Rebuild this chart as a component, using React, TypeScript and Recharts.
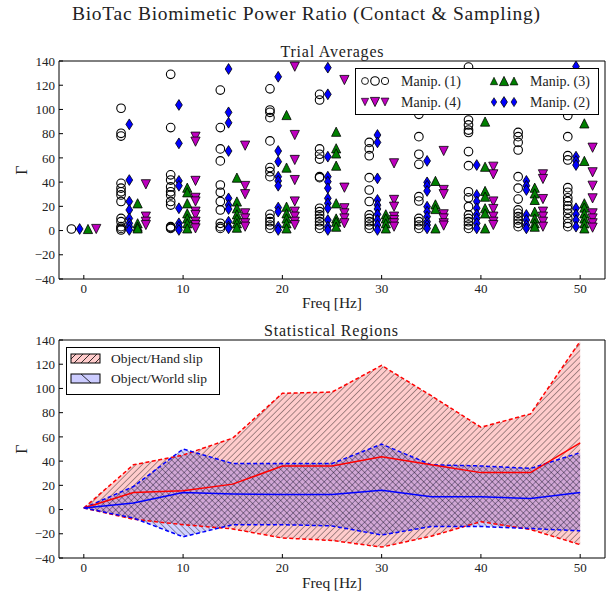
import { ScatterChart, Scatter, ComposedChart, Area, Line, XAxis, YAxis } from 'recharts';

const freqs = [0, 5, 10, 15, 20, 25, 30, 35, 40, 45, 50];
const xTicks = [0, 10, 20, 30, 40, 50];
const yTicks = [-40, -20, 0, 20, 40, 60, 80, 100, 120, 140];

// trial averages, one list per frequency
const manip1 = [
  [1.3],
  [101, 80.3, 78, 39, 35, 32, 29.4, 24, 10, 7.3, 3.2, 1.8, 0.5],
  [129, 85, 46, 41.7, 36, 32, 29.4, 24, 21, 3.2, 2.5, 1.8],
  [116, 85, 67.4, 57.5, 37.6, 31.6, 24, 17, 6, 3.2, 1.8],
  [117, 99.5, 97.6, 93.2, 74, 52, 48.6, 44.5, 13.4, 10, 7.3, 4.6, 1.8],
  [112.5, 107.8, 67.4, 63, 59, 44.5, 43.7, 18.4, 15.6, 12.9, 10, 7.3, 4.6, 1.8],
  [72.8, 67.4, 61.8, 43.7, 33.5, 24, 12.9, 10, 7.3, 4.6, 1.8],
  [96, 77.5, 63, 54.7, 28, 24.4, 10, 7.3, 4.6, 1.8],
  [135, 91.3, 87.2, 83, 81, 65.2, 53.6, 32, 27, 19.7, 12.9, 10, 7.3, 4.6, 1.8],
  [81, 77.5, 72.8, 66.5, 44.5, 35, 26, 17, 14.2, 11.5, 8.7, 6, 3.2],
  [95, 77.5, 61.8, 58.3, 35.4, 31.6, 27, 24, 20.5, 17.8, 14.2, 10, 6, 3.2],
];
const manip2 = [
  [1.3],
  [87.7, 41.7, 24, 17, 10, 6, 3.2, 0.5],
  [103.7, 72, 41, 37, 18.4, 6, 3.2, 0.5],
  [133.4, 97.6, 89, 65.7, 26.6, 21, 17.8, 7.3, 3.2, 1.8],
  [127, 65.7, 56.9, 44.5, 41, 37, 19, 15.6, 3.2, 0.5],
  [134.5, 112.5, 61, 44.5, 40.4, 35, 26.6, 22.5, 18.4, 8.7, 3.2, 0.5],
  [78.9, 72.8, 43.1, 25.3, 21, 17.8, 13.4, 8.7, 4.6, 0.5],
  [57.5, 39.8, 37, 32.7, 19.7, 15.6, 11.5, 7.3, 4.6, 1.8],
  [54.1, 29.4, 24, 18.4, 13.4, 10, 6, 1.8],
  [41, 37, 33.5, 12.9, 8.7, 4.6, 1.8],
  [135.5, 61, 57.5, 54.1, 18.4, 13.4, 8.7, 3.2],
];
const manip3 = [
  [1.3],
  [22.5, 6, 3.2, 1.8],
  [35.4, 31.6, 22.5, 14.2, 10, 6, 1.8],
  [43.7, 24, 18.4, 13.4, 9.6, 6, 2.4],
  [95.4, 52, 19.7, 14.2, 10, 6, 1.8],
  [81.6, 67.9, 63.7, 53.6, 22.5, 10, 7.3, 3.2],
  [13.4, 10, 6, 1.8],
  [41, 21.6, 17.8, 1.8],
  [90, 52.7, 32.7, 28, 18.4, 14.2, 1.8],
  [35.4, 30.7, 25.3, 15.6, 10, 6, 3.2],
  [88.5, 57.5, 22.5, 19, 14.2, 10, 6, 1.8],
];
const manip4 = [
  [1.3],
  [38.2, 11.5, 7.3, 4.6],
  [77.5, 73.4, 41, 27, 24, 15.6, 12.9, 7.3, 4.6, 1.8],
  [70.1, 36.8, 30, 14.2, 10, 6, 3.2],
  [135.3, 78.9, 58.3, 41.7, 24, 15.6, 11.5, 7.3, 4.6],
  [124.3, 35.4, 18.4, 14.2, 10, 6],
  [55.5, 25.3, 19.7, 11.5, 8.7, 6, 3.2],
  [65.7, 33.5, 30, 13.4, 10, 6, 4.1],
  [52.7, 46.4, 24, 17.8, 11.5, 7.3, 4.6],
  [46.4, 42.6, 26, 15.6, 11.5, 7.3, 3.2],
  [68.4, 48.1, 37, 26.6, 14.2, 10, 6, 2.4],
];

// statistical regions
const handLow = [1.3, -8, -12.5, -16, -23.5, -25.5, -31, -22, -10, -16.5, -29];
const handMean = [1.3, 14, 15.5, 21, 36, 36, 43.5, 37, 30.5, 30.5, 55];
const handHigh = [1.3, 37, 45, 59, 96, 97, 119, 94, 68, 79, 139];
const worldLow = [1.3, -7, -22.5, -12.5, -12.5, -13.5, -21, -14, -14, -15.7, -17.6];
const worldMean = [1.3, 5.5, 14, 12.8, 12.5, 12.5, 16, 10.6, 10.6, 9.2, 14];
const worldHigh = [1.3, 19, 50, 38, 38, 38, 54, 37, 36, 34, 47];

const serif = "'Liberation Serif', 'Times New Roman', serif";
const ink = '#222';
const xDomain = [-2.5, 52.5];
const yDomain = [-40, 140];

const fmt = (v: number) => (v < 0 ? `\u2212${Math.abs(v)}` : `${v}`);

const toPoints = (groups: number[][], dx: number) =>
  groups.flatMap((vals, i) => vals.map((y) => ({ x: freqs[i] + dx, y })));

const pts1 = toPoints(manip1, -1.25);
const pts2 = toPoints(manip2, -0.42);
const pts3 = toPoints(manip3, 0.42);
const pts4 = toPoints(manip4, 1.25);

const regionData = freqs.map((f, i) => ({
  f,
  hand: [handLow[i], handHigh[i]],
  world: [worldLow[i], worldHigh[i]],
  handLow: handLow[i],
  handMean: handMean[i],
  handHigh: handHigh[i],
  worldLow: worldLow[i],
  worldMean: worldMean[i],
  worldHigh: worldHigh[i],
}));

const OpenCircle = ({ cx, cy }: any) => (
  <circle cx={cx} cy={cy} r={4.3} fill="none" stroke="#000" strokeWidth={1.1} />
);
const TriUp = ({ cx, cy }: any) => (
  <polygon
    points={`${cx},${cy - 4.6} ${cx - 4.6},${cy + 4.6} ${cx + 4.6},${cy + 4.6}`}
    fill="#008000"
    stroke="#000"
    strokeWidth={0.8}
  />
);
const TriDown = ({ cx, cy }: any) => (
  <polygon
    points={`${cx - 4.6},${cy - 4.6} ${cx + 4.6},${cy - 4.6} ${cx},${cy + 4.6}`}
    fill="#bf00bf"
    stroke="#000"
    strokeWidth={0.8}
  />
);
const ThinDiamond = ({ cx, cy }: any) => (
  <polygon
    points={`${cx},${cy - 5.4} ${cx + 3.4},${cy} ${cx},${cy + 5.4} ${cx - 3.4},${cy}`}
    fill="#0000ff"
    stroke="#000"
    strokeWidth={0.8}
  />
);

const tickStyle = { fontSize: 13, fill: ink, fontFamily: serif };
const black = { stroke: '#000', strokeWidth: 1 };

// matplotlib style box: ticks pointing inwards on all four sides
function frameAxes(xKey: string, yKey?: string, bottomHeight = 41) {
  return [
    <XAxis
      key="xb"
      xAxisId={0}
      type="number"
      dataKey={xKey}
      domain={xDomain}
      allowDataOverflow
      ticks={xTicks}
      interval={0}
      tickSize={-4}
      tickMargin={8.5}
      height={bottomHeight}
      tick={tickStyle}
      axisLine={black}
      tickLine={black}
    />,
    <XAxis
      key="xt"
      xAxisId="top"
      orientation="top"
      type="number"
      domain={xDomain}
      allowDataOverflow
      ticks={xTicks}
      interval={0}
      tickSize={-4}
      height={1}
      tick={false}
      axisLine={black}
      tickLine={black}
    />,
    <YAxis
      key="yl"
      yAxisId={0}
      type="number"
      dataKey={yKey}
      domain={yDomain}
      allowDataOverflow
      ticks={yTicks}
      interval={0}
      tickSize={-4}
      tickMargin={8}
      width={59}
      tick={tickStyle}
      tickFormatter={fmt}
      axisLine={black}
      tickLine={black}
    />,
    <YAxis
      key="yr"
      yAxisId="right"
      orientation="right"
      type="number"
      domain={yDomain}
      allowDataOverflow
      ticks={yTicks}
      interval={0}
      tickSize={-4}
      width={1}
      tick={false}
      axisLine={black}
      tickLine={black}
    />,
  ];
}

const legendItems = [
  { label: 'Manip. (1)', shape: OpenCircle, x: 9, y: 12 },
  { label: 'Manip. (4)', shape: TriDown, x: 9, y: 33 },
  { label: 'Manip. (3)', shape: TriUp, x: 138, y: 12 },
  { label: 'Manip. (2)', shape: ThinDiamond, x: 138, y: 33 },
];

function TrialLegend() {
  return (
    <div
      style={{
        position: 'absolute',
        left: 355,
        top: 68,
        width: 242,
        height: 45,
        border: '1px solid #000',
        background: '#fff',
      }}
    >
      <svg width={242} height={45}>
        {legendItems.map((it) => {
          const S = it.shape;
          return (
            <g key={it.label}>
              <g transform={`translate(${it.x},${it.y}) scale(0.8) translate(${-it.x},${-it.y})`}>
                <S cx={it.x} cy={it.y} />
              </g>
              <S cx={it.x + 10} cy={it.y} />
              <g transform={`translate(${it.x + 20},${it.y}) scale(0.85) translate(${-it.x - 20},${-it.y})`}>
                <S cx={it.x + 20} cy={it.y} />
              </g>
              <text x={it.x + 36} y={it.y + 4.5} fontSize={14} fontFamily={serif} fill={ink}>
                {it.label}
              </text>
            </g>
          );
        })}
      </svg>
    </div>
  );
}

function RegionLegend() {
  return (
    <div
      style={{
        position: 'absolute',
        left: 66,
        top: 347,
        width: 152,
        height: 46,
        border: '1px solid #000',
        background: '#fff',
      }}
    >
      <svg width={152} height={46}>
        <defs>
          <clipPath id="swHand">
            <rect x={4} y={6} width={29} height={9} />
          </clipPath>
        </defs>
        <rect x={4} y={6} width={29} height={9} fill="#ffcccc" />
        <g clipPath="url(#swHand)" stroke="#000" strokeWidth={0.8}>
          {[0, 7, 14, 21, 28, 35].map((d) => (
            <line key={d} x1={4 + d - 4} y1={15} x2={4 + d + 5} y2={6} />
          ))}
        </g>
        <rect x={4} y={6} width={29} height={9} fill="none" stroke="#000" strokeWidth={1} />
        <text x={44} y={15} fontSize={13.5} fontFamily={serif} fill={ink}>
          Object/Hand slip
        </text>
        <rect x={4} y={26} width={29} height={9} fill="#ccccff" stroke="#000" strokeWidth={1} />
        <line x1={14} y1={26} x2={24} y2={35} stroke="#000" strokeWidth={0.8} />
        <text x={44} y={35} fontSize={13.5} fontFamily={serif} fill={ink}>
          Object/World slip
        </text>
      </svg>
    </div>
  );
}

export default function App() {
  return (
    <div style={{ position: 'absolute', left: 0, top: 0, width: 611, height: 596, background: '#fff' }}>
      <div style={{ position: 'absolute', left: 0, top: 0 }}>
        <ScatterChart width={611} height={320} margin={{ top: 60, right: 5, bottom: 0, left: 0 }}>
          {frameAxes('x', 'y')}
          <Scatter data={pts1} shape={OpenCircle} isAnimationActive={false} />
          <Scatter data={pts4} shape={TriDown} isAnimationActive={false} />
          <Scatter data={pts3} shape={TriUp} isAnimationActive={false} />
          <Scatter data={pts2} shape={ThinDiamond} isAnimationActive={false} />
        </ScatterChart>
      </div>

      <div style={{ position: 'absolute', left: 0, top: 320 }}>
        <ComposedChart width={611} height={276} data={regionData} margin={{ top: 19, right: 5, bottom: 0, left: 0 }}>
          <defs>
            <pattern id="hatchHand" patternUnits="userSpaceOnUse" width={4.4} height={4.4} patternTransform="rotate(45)">
              <rect width={4.4} height={4.4} fill="#ff0000" fillOpacity={0.2} />
              <line x1={0} y1={0} x2={0} y2={4.4} stroke="#000" strokeWidth={0.7} />
            </pattern>
            <pattern id="hatchWorld" patternUnits="userSpaceOnUse" width={4.4} height={4.4} patternTransform="rotate(-45)">
              <rect width={4.4} height={4.4} fill="#0000ff" fillOpacity={0.18} />
              <line x1={0} y1={0} x2={0} y2={4.4} stroke="#000" strokeWidth={0.7} />
            </pattern>
          </defs>
          {frameAxes('f', undefined, 38)}
          <Area type="linear" dataKey="hand" stroke="none" fill="url(#hatchHand)" fillOpacity={1} isAnimationActive={false} />
          <Area type="linear" dataKey="world" stroke="none" fill="url(#hatchWorld)" fillOpacity={1} isAnimationActive={false} />
          <Line type="linear" dataKey="handHigh" stroke="#ff0000" strokeWidth={1.5} strokeDasharray="4 2.5" dot={false} isAnimationActive={false} />
          <Line type="linear" dataKey="handLow" stroke="#ff0000" strokeWidth={1.5} strokeDasharray="4 2.5" dot={false} isAnimationActive={false} />
          <Line type="linear" dataKey="worldHigh" stroke="#0000ff" strokeWidth={1.5} strokeDasharray="4 2.5" dot={false} isAnimationActive={false} />
          <Line type="linear" dataKey="worldLow" stroke="#0000ff" strokeWidth={1.5} strokeDasharray="4 2.5" dot={false} isAnimationActive={false} />
          <Line type="linear" dataKey="handMean" stroke="#ff0000" strokeWidth={1.5} dot={false} isAnimationActive={false} />
          <Line type="linear" dataKey="worldMean" stroke="#0000ff" strokeWidth={1.5} dot={false} isAnimationActive={false} />
        </ComposedChart>
      </div>

      <TrialLegend />
      <RegionLegend />

      <svg width={611} height={596} style={{ position: 'absolute', left: 0, top: 0, pointerEvents: 'none' }}>
        <g fontFamily={serif} fill={ink} textAnchor="middle">
          <text x={306} y={20} fontSize={19.5} textLength={468} lengthAdjust="spacing">
            BioTac Biomimetic Power Ratio (Contact &amp; Sampling)
          </text>
          <text x={332} y={57} fontSize={16} textLength={103} lengthAdjust="spacing">
            Trial Averages
          </text>
          <text x={332} y={308} fontSize={15.5} textLength={60} lengthAdjust="spacing">
            Freq [Hz]
          </text>
          <text x={27} y={170} fontSize={16} transform="rotate(-90 27 170)">
            Γ
          </text>
          <text x={331} y={336} fontSize={16} textLength={134} lengthAdjust="spacing">
            Statistical Regions
          </text>
          <text x={332} y={588} fontSize={15.5} textLength={60} lengthAdjust="spacing">
            Freq [Hz]
          </text>
          <text x={27} y={449} fontSize={16} transform="rotate(-90 27 449)">
            Γ
          </text>
        </g>
      </svg>
    </div>
  );
}
